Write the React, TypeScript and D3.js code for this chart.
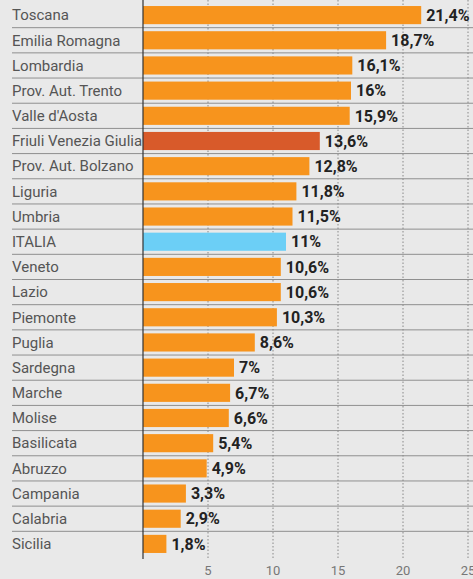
import React from "react";
import * as d3 from "d3";

const regions = ["Toscana","Emilia Romagna","Lombardia","Prov. Aut. Trento","Valle d'Aosta","Friuli Venezia Giulia","Prov. Aut. Bolzano","Liguria","Umbria","ITALIA","Veneto","Lazio","Piemonte","Puglia","Sardegna","Marche","Molise","Basilicata","Abruzzo","Campania","Calabria","Sicilia"];
const values = [21.4,18.7,16.1,16,15.9,13.6,12.8,11.8,11.5,11,10.6,10.6,10.3,8.6,7,6.7,6.6,5.4,4.9,3.3,2.9,1.8];
const ticks = [5,10,15,20,25];
const highlight: Record<string,string> = { "Friuli Venezia Giulia": "#d85a2a", "ITALIA": "#6ccff6" };

const W = 473, H = 579;
const x = d3.scaleLinear().domain([0, 25]).range([143, 468]);
const y = d3.scaleBand().domain(regions).range([2.5, 556.5]).paddingInner(0.28).paddingOuter(0.14);
const fmt = (v: number) => String(v).replace(".", ",") + "%";

export default function App() {
  const step = y.step();
  return (
    <svg width={W} height={H} style={{ position: "absolute", left: 0, top: 0, background: "#e9e9e9" }}>
      <rect x={0} y={0} width={W} height={H} fill="#e9e9e9" />
      {regions.slice(1).map(r => {
        const yy = (y(r) as number) - step * y.paddingInner() / 2;
        return <line key={"s" + r} x1={12} x2={W} y1={yy} y2={yy} stroke="#8f8f8f" strokeWidth={1} />;
      })}
      {ticks.map(t => (
        <line key={"g" + t} x1={x(t)} x2={x(t)} y1={0} y2={559} stroke="#888" strokeWidth={1} strokeDasharray="1.5,2" />
      ))}
      {regions.map((r, i) => (
        <g key={r}>
          <rect x={x(0)} y={y(r)} width={x(values[i]) - x(0)} height={y.bandwidth()} fill={highlight[r] || "#f7941d"} />
          <text x={12} y={(y(r) as number) + y.bandwidth() / 2} dy="0.35em" fontFamily="'Liberation Sans Narrow', 'Roboto', sans-serif" fontSize={15} fill="#555">{r}</text>
          <text x={x(values[i]) + 5} y={(y(r) as number) + y.bandwidth() / 2} dy="0.36em" fontFamily="'Roboto', sans-serif" fontWeight="bold" fontSize={16} fill="#222">{fmt(values[i])}</text>
        </g>
      ))}
      <line x1={x(0)} x2={x(0)} y1={0} y2={559} stroke="#333" strokeWidth={1.2} />
      {ticks.map(t => (
        <text key={"t" + t} x={x(t)} y={570} dy="0.35em" textAnchor="middle" fontFamily="'Liberation Sans Narrow', 'Roboto', sans-serif" fontSize={13} fill="#777">{t}</text>
      ))}
    </svg>
  );
}
